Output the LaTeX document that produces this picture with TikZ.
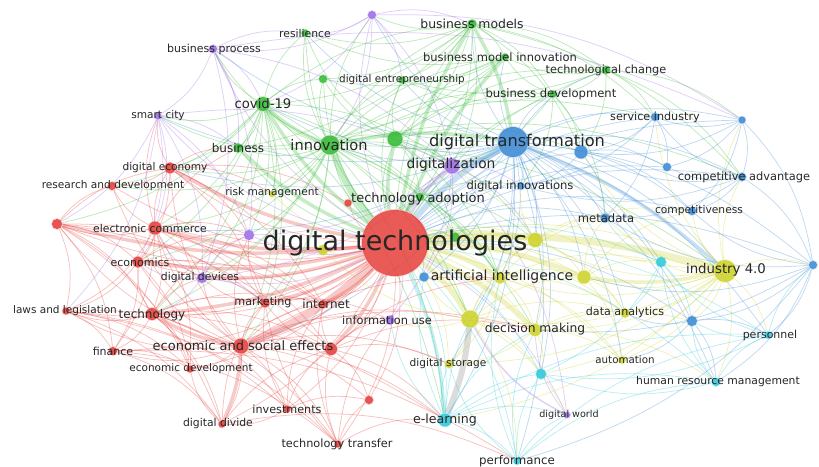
\documentclass[tikz,border=0pt]{standalone}
\usepackage{fontspec}
\setmainfont{DejaVu Sans}

\pgfdeclarelayer{links}
\pgfsetlayers{links,main}

% cluster colours
\definecolor{cr}{RGB}{228,62,58}
\definecolor{cg}{RGB}{52,185,52}
\definecolor{cb}{RGB}{58,138,212}
\definecolor{cy}{RGB}{205,210,40}
\definecolor{cp}{RGB}{158,108,228}
\definecolor{cc}{RGB}{45,200,218}
\definecolor{txt}{RGB}{38,38,38}

\tikzset{
  dot/.style={circle, inner sep=0pt, fill=#1, fill opacity=0.88, draw=#1, draw opacity=0.3, line width=1.6pt},
  lnk/.style={draw=#1, draw opacity=0.32, line width=0.75pt},
  band/.style={draw=#1, draw opacity=0.28, line width=3.5pt},
  lbl/.style={text=txt, inner sep=0pt, font=\fontsize{#1}{#1}\selectfont},
  lbl/.default=10.5,
  every to/.style={bend left=17},
}

\begin{document}
\begin{tikzpicture}[x=1pt, y=-1pt]
\useasboundingbox (0,0) rectangle (819,466);

% ---------- nodes: red cluster ----------
\node[dot=cr, minimum size=66pt, fill opacity=0.85] (dt) at (395,243) {};
\node[dot=cr, minimum size=11pt] (decon) at (170,168) {};
\node[dot=cr, minimum size=8pt] (rd) at (112,186) {};
\node[dot=cr, minimum size=13pt] (ecom) at (155,228) {};
\node[dot=cr, minimum size=10pt] (r1) at (57,224) {};
\node[dot=cr, minimum size=11pt] (econ) at (138,262) {};
\node[dot=cr, minimum size=7pt] (laws) at (66,311) {};
\node[dot=cr, minimum size=12pt] (tech) at (152,314) {};
\node[dot=cr, minimum size=8pt] (fin) at (113,351) {};
\node[dot=cr, minimum size=15pt] (ese) at (241,346) {};
\node[dot=cr, minimum size=12pt] (r2) at (331,349) {};
\node[dot=cr, minimum size=9pt] (mkt) at (265,303) {};
\node[dot=cr, minimum size=8pt] (inet) at (323,304) {};
\node[dot=cr, minimum size=7pt] (edev) at (190,369) {};
\node[dot=cr, minimum size=7pt] (inv) at (287,409) {};
\node[dot=cr, minimum size=7pt] (ddiv) at (222,424) {};
\node[dot=cr, minimum size=7pt] (ttr) at (338,444) {};
\node[dot=cr, minimum size=8pt] (r3) at (369,400) {};
\node[dot=cr, minimum size=7pt] (r4) at (348,203) {};

% ---------- nodes: green cluster ----------
\node[dot=cg, minimum size=9pt] (bm) at (472,24) {};
\node[dot=cg, minimum size=7pt] (res) at (305,33) {};
\node[dot=cg, minimum size=7pt] (bmi) at (505,57) {};
\node[dot=cg, minimum size=7pt] (dent) at (402,80) {};
\node[dot=cg, minimum size=8pt] (g1) at (323,79) {};
\node[dot=cg, minimum size=8pt] (tc) at (606,70) {};
\node[dot=cg, minimum size=7pt] (bdev) at (553,94) {};
\node[dot=cg, minimum size=14pt] (covid) at (263,104) {};
\node[dot=cg, minimum size=19pt] (inn) at (330,145) {};
\node[dot=cg, minimum size=15pt] (g2) at (395,139) {};
\node[dot=cg, minimum size=9pt] (bus) at (238,148) {};
\node[dot=cg, minimum size=8pt] (tad) at (420,197) {};
\node[dot=cg, minimum size=9pt] (g3) at (455,237) {};

% ---------- nodes: blue cluster ----------
\node[dot=cb, minimum size=30pt] (dtr) at (513,142) {};
\node[dot=cb, minimum size=13pt] (b1) at (581,152) {};
\node[dot=cb, minimum size=8pt] (si) at (655,117) {};
\node[dot=cb, minimum size=7pt] (b2) at (742,120) {};
\node[dot=cb, minimum size=8pt] (ca) at (742,177) {};
\node[dot=cb, minimum size=8pt] (b3) at (667,167) {};
\node[dot=cb, minimum size=8pt] (comp) at (692,211) {};
\node[dot=cb, minimum size=9pt] (meta) at (605,218) {};
\node[dot=cb, minimum size=7pt] (dinn) at (521,186) {};
\node[dot=cb, minimum size=9pt] (b4) at (424,277) {};
\node[dot=cb, minimum size=8pt] (b5) at (813,265) {};
\node[dot=cb, minimum size=10pt] (b6) at (692,321) {};

% ---------- nodes: yellow cluster ----------
\node[dot=cy, minimum size=22pt] (i40) at (725,271) {};
\node[dot=cy, minimum size=11pt] (ai) at (500,278) {};
\node[dot=cy, minimum size=13pt] (y1) at (584,277) {};
\node[dot=cy, minimum size=14pt] (y2) at (535,240) {};
\node[dot=cy, minimum size=12pt] (dm) at (535,330) {};
\node[dot=cy, minimum size=17pt] (y3) at (470,319) {};
\node[dot=cy, minimum size=8pt] (dst) at (449,364) {};
\node[dot=cy, minimum size=7pt] (auto) at (622,360) {};
\node[dot=cy, minimum size=9pt] (da) at (625,313) {};
\node[dot=cy, minimum size=6pt] (risk) at (272,194) {};
\node[dot=cy, minimum size=10pt] (y4) at (323,250) {};

% ---------- nodes: cyan cluster ----------
\node[dot=cc, minimum size=13pt] (el) at (445,420) {};
\node[dot=cc, minimum size=7pt] (perf) at (517,461) {};
\node[dot=cc, minimum size=10pt] (c1) at (541,374) {};
\node[dot=cc, minimum size=7pt] (pers) at (768,335) {};
\node[dot=cc, minimum size=8pt] (hrm) at (716,382) {};
\node[dot=cc, minimum size=10pt] (c2) at (661,262) {};

% ---------- nodes: purple cluster ----------
\node[dot=cp, minimum size=8pt] (bp) at (213,49) {};
\node[dot=cp, minimum size=8pt] (p1) at (372,15) {};
\node[dot=cp, minimum size=7pt] (sc) at (158,116) {};
\node[dot=cp, minimum size=15pt] (dig) at (452,166) {};
\node[dot=cp, minimum size=10pt] (dd) at (202,278) {};
\node[dot=cp, minimum size=10pt] (p2) at (249,235) {};
\node[dot=cp, minimum size=9pt] (iu) at (390,320) {};
\node[dot=cp, minimum size=6pt] (dw) at (567,415) {};

% ---------- links ----------
\begin{pgfonlayer}{links}
% strong links
\draw[band=cr, line width=8pt] (dt) to[bend left=10] (ese);
\foreach \t in {ecom,tech,decon,mkt,inet,econ,r2,r1,dd}
  \draw[band=cr] (dt) to[bend left=10] (\t);
\draw[band=cg, line width=7pt] (dt) to[bend left=10] (inn);
\foreach \t in {covid,bm,g2,bus,tad,bmi}
  \draw[band=cg] (dt) to[bend left=10] (\t);
\draw[band=cb, line width=6pt] (dt) to[bend left=10] (dtr);
\draw[band=cy, line width=7pt] (dt) to[bend left=10] (i40);
\foreach \t in {ai,y3,dm,y1,y2}
  \draw[band=cy, line width=5pt] (dt) to[bend left=10] (\t);
\draw[band=cp] (dt) to[bend left=10] (dig);
\draw[band=cc] (dt) to[bend left=10] (el);
\draw[band=gray, line width=6pt] (y3) to[bend left=8] (el);
\draw[band=cg] (inn) to[bend left=10] (covid);
\draw[band=cb] (dtr) to[bend left=10] (i40);
\draw[band=cb] (dtr) to[bend left=10] (dig);
\draw[band=cg] (inn) to[bend left=10] (dtr);
\draw[band=cr] (ese) to[bend left=10] (tech);
\draw[band=cr] (ese) to[bend left=10] (ddiv);
\draw[band=cy] (i40) to[bend left=10] (y1);
\draw[band=cg] (bm) to[bend left=10] (dtr);

% digital technologies to everything
\foreach \t in {decon,rd,ecom,r1,econ,laws,tech,fin,ese,r2,mkt,inet,edev,inv,ddiv,ttr,r3,r4}
  \draw[lnk=cr] (dt) to (\t);
\foreach \t in {bm,res,bmi,dent,g1,tc,bdev,covid,inn,g2,bus,tad,g3}
  \draw[lnk=cg] (dt) to (\t);
\foreach \t in {dtr,b1,si,b2,ca,b3,comp,meta,dinn,b4,b5,b6}
  \draw[lnk=cb] (dt) to (\t);
\foreach \t in {i40,ai,y1,y2,dm,y3,dst,auto,da,risk,y4}
  \draw[lnk=cy] (dt) to (\t);
\foreach \t in {el,perf,c1,pers,hrm,c2}
  \draw[lnk=cc] (dt) to (\t);
\foreach \t in {bp,p1,sc,dig,dd,p2,iu,dw}
  \draw[lnk=cp] (dt) to (\t);

% digital transformation
\foreach \t in {inn,g2,covid,bm,bmi,tc,bdev,si,b2,ca,b3,comp,meta,dinn,b4,b5,b6,i40,ai,y1,y2,dm,da,c2,pers,hrm,dig,dent,tad,g3,auto,el,perf,sc,bp,decon,ecom,res,p1,ese,y3,c1,dst}
  \draw[lnk=cb] (dtr) to (\t);

% green hubs
\foreach \t in {covid,res,bus,bm,bmi,dent,g1,tc,bdev,g2,bp,sc,p1,tad,decon,ecom,econ,tech,ese,mkt,ai,y3,dm,i40,si,ca,rd,dig,g3,el,risk,p2,dd}
  \draw[lnk=cg] (inn) to (\t);
\foreach \t in {res,bus,g1,bp,sc,decon,ecom,econ,tech,ese,el,dig,bm,rd,r1,dd,p2,mkt,ai,y3,risk}
  \draw[lnk=cg] (covid) to (\t);
\foreach \t in {bmi,dent,bdev,tc,res,p1,g1,g2,dig,b1,ca,tad,si,covid,bus}
  \draw[lnk=cg] (bm) to (\t);
\foreach \t in {bmi,bdev,tc,dent,res,g1,dig,tad,g3,b1,y2,ai}
  \draw[lnk=cg] (g2) to (\t);
\foreach \t in {b1,si,bdev,ca,b2,dent,bmi}
  \draw[lnk=cg] (tc) to (\t);
\foreach \t in {b1,dinn,meta,bmi,dent,dig}
  \draw[lnk=cg] (bdev) to (\t);
\foreach \t in {res,bus,dent,g1}
  \draw[lnk=cg] (bmi) to (\t);
\foreach \t in {g3,dinn,y2,ai}
  \draw[lnk=cg] (tad) to (\t);

% red hubs
\foreach \t in {decon,rd,ecom,r1,econ,laws,tech,fin,edev,inv,ddiv,ttr,r3,mkt,inet,r2,dd,p2,iu,el,dst,y3,ai,dm}
  \draw[lnk=cr] (ese) to (\t);
\foreach \t in {r1,rd,decon,econ,tech,laws,fin,mkt,inet,dd,p2,bus,sc,r2,edev}
  \draw[lnk=cr] (ecom) to (\t);
\foreach \t in {decon,rd,econ,tech,mkt,r2,inet,laws,fin,edev,ddiv}
  \draw[lnk=cr] (r1) to (\t);
\foreach \t in {laws,fin,econ,edev,ddiv,inv,mkt,inet,ttr,r2,dd,p2}
  \draw[lnk=cr] (tech) to (\t);
\foreach \t in {rd,econ,mkt,inet,r4,risk,bus,sc,p2}
  \draw[lnk=cr] (decon) to (\t);
\foreach \t in {mkt,inet,dd,p2,fin,edev,laws}
  \draw[lnk=cr] (econ) to (\t);
\foreach \t in {fin,ttr,ddiv,edev,inv,el}
  \draw[lnk=cr] (laws) to (\t);
\foreach \t in {ddiv,edev,ttr,perf}
  \draw[lnk=cr] (fin) to (\t);
\foreach \t in {r2,r3,inet,mkt,el,iu}
  \draw[lnk=cr] (ttr) to (\t);
\foreach \t in {r2,ddiv,mkt,inet,r3}
  \draw[lnk=cr] (inv) to (\t);
\foreach \t in {mkt,r2,perf,edev}
  \draw[lnk=cr] (ddiv) to (\t);
\foreach \t in {iu,dst,el,r3,dm,ai,inet,mkt}
  \draw[lnk=cr] (r2) to (\t);
\foreach \t in {inet,dd,p2,iu}
  \draw[lnk=cr] (mkt) to (\t);

% yellow hubs
\foreach \t in {y1,y2,ai,dm,da,auto,c2,b5,b6,ca,comp,meta,pers,hrm,y3,dig,b2,si,b1,el,dst,c1}
  \draw[lnk=cy] (i40) to (\t);
\foreach \t in {dst,dm,ai,iu,y2,c1,dw,y4,b4,perf,y1,da}
  \draw[lnk=cy] (y3) to (\t);
\foreach \t in {y1,y2,dm,da,auto,meta,b4,c2,dst}
  \draw[lnk=cy] (ai) to (\t);
\foreach \t in {y1,dm,meta,da,g3,dinn,comp}
  \draw[lnk=cy] (y2) to (\t);
\foreach \t in {da,auto,b6,c1,hrm,dst}
  \draw[lnk=cy] (dm) to (\t);
\foreach \t in {da,auto,meta,c2,comp}
  \draw[lnk=cy] (y1) to (\t);

% cyan hubs
\foreach \t in {perf,c1,dst,dm,hrm,dw,ai,iu,pers,b4}
  \draw[lnk=cc] (el) to (\t);
\foreach \t in {c1,dm,dw,hrm,pers,dst,ai}
  \draw[lnk=cc] (perf) to (\t);
\foreach \t in {pers,c1,b6,c2}
  \draw[lnk=cc] (hrm) to (\t);
\foreach \t in {b6,c2,c1,b5}
  \draw[lnk=cc] (pers) to (\t);
\foreach \t in {c1,da,meta,b6}
  \draw[lnk=cc] (c2) to (\t);

% blue hubs
\foreach \t in {si,ca,b5,b3,b1,comp}
  \draw[lnk=cb] (b2) to (\t);
\foreach \t in {comp,b3,b5,meta,si,b1,dinn}
  \draw[lnk=cb] (ca) to (\t);
\foreach \t in {comp,b6,pers,hrm,y1,meta,dm,perf}
  \draw[lnk=cb] (b5) to (\t);
\foreach \t in {b1,b3,meta,dinn}
  \draw[lnk=cb] (si) to (\t);
\foreach \t in {dinn,meta,comp,b3}
  \draw[lnk=cb] (b1) to (\t);
\foreach \t in {da,auto,hrm,pers}
  \draw[lnk=cb] (b6) to (\t);

% purple hubs
\foreach \t in {bp,dig,res,dent,bm,covid,b2,inn}
  \draw[lnk=cp] (p1) to (\t);
\foreach \t in {sc,dig,bus,res,covid,dd,p2,b2}
  \draw[lnk=cp] (bp) to (\t);
\foreach \t in {dig,dd,p2,bus,econ,ecom,r1,laws}
  \draw[lnk=cp] (sc) to (\t);
\foreach \t in {dinn,dw,iu,dd,p2,g2,y2,b4}
  \draw[lnk=cp] (dig) to (\t);
\foreach \t in {econ,ecom,tech,mkt,p2}
  \draw[lnk=cp] (dd) to (\t);
\draw[lnk=cp, line width=1.4pt] (dw) to (y3);
\draw[lnk=cp] (dw) to (dm);
\end{pgfonlayer}

% ---------- labels ----------
\node[lbl=27] (dt-t) at (395,243) {digital technologies};
\node[lbl=10.6] (decon-t) at (165,168) {digital economy};
\node[lbl=10.6] (rd-t) at (113,186) {research and development};
\node[lbl=10.8] (ecom-t) at (150,228) {electronic commerce};
\node[lbl=11] (econ-t) at (140,262) {economics};
\node[lbl=10.5] (laws-t) at (65,311) {laws and legislation};
\node[lbl=12] (tech-t) at (152,315) {technology};
\node[lbl=11] (fin-t) at (113,351) {finance};
\node[lbl=13] (ese-t) at (243,346) {economic and social effects};
\node[lbl=10.5] (edev-t) at (191,369) {economic development};
\node[lbl=11.2] (mkt-t) at (263,302) {marketing};
\node[lbl=12] (inet-t) at (326,304) {internet};
\node[lbl=11.2] (inv-t) at (287,409) {investments};
\node[lbl=10.8] (ddiv-t) at (218,424) {digital divide};
\node[lbl=11.3] (ttr-t) at (337,444) {technology transfer};
\node[lbl=10.6] (risk-t) at (272,193) {risk management};

\node[lbl=12.4] (bm-t) at (472,24) {business models};
\node[lbl=10.8] (res-t) at (305,33) {resilience};
\node[lbl=11.5] (bmi-t) at (500,57) {business model innovation};
\node[lbl=10.4] (dent-t) at (402,80) {digital entrepreneurship};
\node[lbl=11.3] (tc-t) at (606,70) {technological change};
\node[lbl=11.6] (bdev-t) at (551,94) {business development};
\node[lbl=13.2] (covid-t) at (263,104) {covid-19};
\node[lbl=14.6] (inn-t) at (329,145) {innovation};
\node[lbl=12] (bus-t) at (238,148) {business};
\node[lbl=13] (tad-t) at (418,199) {technology adoption};

\node[lbl=16.2] (dtr-t) at (517,142) {digital transformation};
\node[lbl=11.2] (si-t) at (655,117) {service industry};
\node[lbl=11.4] (ca-t) at (744,177) {competitive advantage};
\node[lbl=10.7] (comp-t) at (699,211) {competitiveness};
\node[lbl=11.6] (meta-t) at (606,218) {metadata};
\node[lbl=11.6] (dinn-t) at (520,186) {digital innovations};

\node[lbl=13.3] (i40-t) at (726,270) {industry 4.0};
\node[lbl=14] (ai-t) at (502,277) {artificial intelligence};
\node[lbl=12.3] (dm-t) at (535,329) {decision making};
\node[lbl=10.6] (dst-t) at (448,364) {digital storage};
\node[lbl=10.3] (auto-t) at (625,360) {automation};
\node[lbl=11.1] (da-t) at (625,312) {data analytics};
\node[lbl=11.4] (iu-t) at (387,320) {information use};

\node[lbl=12.6] (el-t) at (445,420) {e-learning};
\node[lbl=11.8] (perf-t) at (517,461) {performance};
\node[lbl=11] (pers-t) at (770,335) {personnel};
\node[lbl=10.8] (hrm-t) at (718,382) {human resource management};
\node[lbl=9.6] (dw-t) at (569,415) {digital world};

\node[lbl=11] (bp-t) at (214,49) {business process};
\node[lbl=10.6] (sc-t) at (158,116) {smart city};
\node[lbl=13.8] (dig-t) at (451,165) {digitalization};
\node[lbl=10.8] (dd-t) at (200,278) {digital devices};
\end{tikzpicture}
\end{document}
